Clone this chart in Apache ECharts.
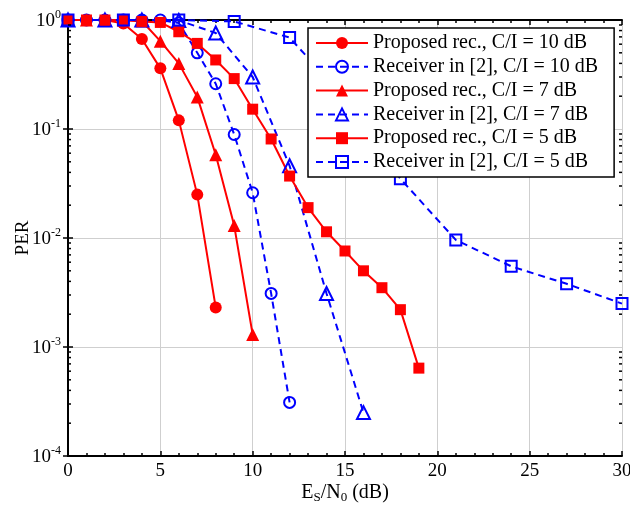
<!DOCTYPE html>
<html>
<head>
<meta charset="utf-8">
<script src="https://cdn.jsdelivr.net/npm/echarts@6/dist/echarts.min.js"></script>
<style>
html, body { margin: 0; padding: 0; background: #fff; }
#main { width: 630px; height: 506px; }
</style>
</head>
<body>
<div id="main"></div>
<script>
// Es/N0 points (dB)
var snrStep1 = [0, 1, 2, 3, 4, 5, 6, 7, 8, 9, 10, 11, 12, 13, 14, 15, 16, 17, 18, 19];
var snrStep2 = [0, 2, 4, 6, 8, 10, 12, 14, 16];
var snrStep3 = [0, 3, 6, 9, 12, 15, 18, 21, 24, 27, 30];

// PER values
var propCI10 = [1, 1, 1, 0.93, 0.67, 0.36, 0.12, 0.025, 0.0023];
var refCI10 = [1, 1, 1, 1, 1, 1, 0.94, 0.50, 0.26, 0.089, 0.026, 0.0031, 0.00031];
var propCI7 = [1, 1, 1, 1, 0.98, 0.64, 0.40, 0.197, 0.058, 0.013, 0.0013];
var refCI7 = [1, 1, 1, 0.99, 0.76, 0.30, 0.046, 0.0031, 0.00025];
var propCI5 = [1, 1, 1, 1, 0.97, 0.95, 0.78, 0.61, 0.43, 0.29, 0.152, 0.081, 0.037, 0.019, 0.0114, 0.0076, 0.0050, 0.0035, 0.0022, 0.00064];
var refCI5 = [1, 1, 1, 0.97, 0.69, 0.19, 0.035, 0.0096, 0.0055, 0.0038, 0.0025];

var xTicks = [0, 5, 10, 15, 20, 25, 30];
var yDecades = [-4, -3, -2, -1, 0];

var font = 'Liberation Serif';
var red = '#ff0000';
var blue = '#0000ff';

function pairs(xs, ys) {
    var out = [];
    for (var i = 0; i < ys.length; i++) {
        out.push([xs[i], ys[i]]);
    }
    return out;
}

function solid(name, xs, ys, symbol, size) {
    return {
        name: name,
        type: 'line',
        data: pairs(xs, ys),
        clip: false,
        symbol: symbol,
        symbolSize: size,
        lineStyle: { color: red, width: 2 },
        itemStyle: { color: red },
        emphasis: { disabled: true }
    };
}

function dashed(name, xs, ys, symbol, size) {
    return {
        name: name,
        type: 'line',
        data: pairs(xs, ys),
        clip: false,
        symbol: symbol,
        symbolSize: size,
        lineStyle: { color: blue, width: 2, type: [7, 5] },
        itemStyle: { color: 'rgba(255,255,255,0)', borderColor: blue, borderWidth: 2 },
        emphasis: { disabled: true }
    };
}

var myChart = echarts.init(document.getElementById('main'));

var option = {
    animation: false,
    backgroundColor: '#fff',
    textStyle: { fontFamily: font },
    grid: { left: 68, right: 8, top: 20, bottom: 50, outerBoundsMode: 'none' },
    legend: {
        left: 308,
        top: 28,
        orient: 'vertical',
        backgroundColor: '#fff',
        borderColor: '#000',
        borderWidth: 1.5,
        borderRadius: 0,
        padding: [5, 16, 5, 7],
        itemWidth: 52,
        itemHeight: 15,
        itemGap: 3.8,
        textStyle: { fontFamily: font, fontSize: 20, color: '#000', lineHeight: 20 },
        data: [
            'Proposed rec., C/I = 10 dB', 'Receiver in [2], C/I = 10 dB',
            'Proposed rec., C/I = 7 dB', 'Receiver in [2], C/I = 7 dB',
            'Proposed rec., C/I = 5 dB', 'Receiver in [2], C/I = 5 dB'
        ]
    },
    xAxis: [
        {
            type: 'value',
            min: xTicks[0],
            max: xTicks[xTicks.length - 1],
            interval: 5,
            name: 'E{sub|S}/N{sub|0} (dB)',
            nameLocation: 'middle',
            nameGap: 26,
            nameMoveOverlap: false,
            nameTextStyle: {
                fontFamily: font, fontSize: 20, color: '#000', lineHeight: 22,
                rich: { sub: { fontFamily: font, fontSize: 13, lineHeight: 14, verticalAlign: 'bottom', color: '#000' } }
            },
            axisLine: { lineStyle: { color: '#000', width: 2 } },
            axisTick: { inside: true, length: 5, lineStyle: { color: '#000', width: 1.5 } },
            minorTick: { show: true, splitNumber: 5, length: 3, lineStyle: { color: '#000', width: 1.5 } },
            axisLabel: { fontFamily: font, fontSize: 19, color: '#000', margin: 6 },
            splitLine: { show: true, lineStyle: { color: '#cfcfcf', width: 1 } }
        },
        {
            type: 'value',
            position: 'top',
            min: xTicks[0],
            max: xTicks[xTicks.length - 1],
            interval: 5,
            axisLine: { onZero: false, lineStyle: { color: '#000', width: 2 } },
            axisTick: { inside: true, length: 5, lineStyle: { color: '#000', width: 1.5 } },
            minorTick: { show: true, splitNumber: 5, length: 3, lineStyle: { color: '#000', width: 1.5 } },
            axisLabel: { show: false },
            splitLine: { show: false }
        }
    ],
    yAxis: [
        {
            type: 'log',
            logBase: 10,
            min: Math.pow(10, yDecades[0]),
            max: Math.pow(10, yDecades[yDecades.length - 1]),
            splitNumber: 4,
            name: 'PER',
            nameLocation: 'middle',
            nameGap: 35,
            nameMoveOverlap: false,
            nameTextStyle: { fontFamily: font, fontSize: 19, color: '#000' },
            axisLine: { lineStyle: { color: '#000', width: 2 } },
            axisTick: { inside: true, length: 5, lineStyle: { color: '#000', width: 1.5 } },
            axisLabel: {
                margin: 7,
                formatter: function (v) {
                    var e = Math.round(Math.log(v) / Math.LN10);
                    return '{b|10}{s|' + e + '}';
                },
                rich: {
                    b: { fontFamily: font, fontSize: 19, lineHeight: 22, color: '#000', verticalAlign: 'bottom' },
                    s: { fontFamily: font, fontSize: 12, lineHeight: 12, color: '#000', verticalAlign: 'top' }
                }
            },
            splitLine: { show: true, lineStyle: { color: '#cfcfcf', width: 1 } }
        },
        {
            type: 'log',
            logBase: 10,
            position: 'right',
            min: Math.pow(10, yDecades[0]),
            max: Math.pow(10, yDecades[yDecades.length - 1]),
            splitNumber: 4,
            axisLine: { show: true, lineStyle: { color: '#000', width: 2 } },
            axisTick: { show: true, inside: true, length: 5, lineStyle: { color: '#000', width: 1.5 } },
            axisLabel: { show: false },
            splitLine: { show: false }
        }
    ],
    series: [
        solid('Proposed rec., C/I = 10 dB', snrStep1, propCI10, 'circle', 12),
        dashed('Receiver in [2], C/I = 10 dB', snrStep1, refCI10, 'circle', 11),
        solid('Proposed rec., C/I = 7 dB', snrStep1, propCI7, 'triangle', 13),
        dashed('Receiver in [2], C/I = 7 dB', snrStep2, refCI7, 'triangle', 13),
        solid('Proposed rec., C/I = 5 dB', snrStep1, propCI5, 'rect', 11),
        dashed('Receiver in [2], C/I = 5 dB', snrStep3, refCI5, 'rect', 11)
    ]
};

myChart.setOption(option);

// log minor ticks (2..9 each decade), left and right side
var xl = myChart.convertToPixel({ xAxisIndex: 0 }, xTicks[0]);
var xr = myChart.convertToPixel({ xAxisIndex: 0 }, xTicks[xTicks.length - 1]);
var ticks = [];
for (var d = 0; d < yDecades.length - 1; d++) {
    for (var k = 2; k <= 9; k++) {
        var py = myChart.convertToPixel({ yAxisIndex: 0 }, k * Math.pow(10, yDecades[d]));
        ticks.push({ type: 'line', shape: { x1: xl, y1: py, x2: xl + 3, y2: py }, style: { stroke: '#000', lineWidth: 1.5 }, z: 5 });
        ticks.push({ type: 'line', shape: { x1: xr - 3, y1: py, x2: xr, y2: py }, style: { stroke: '#000', lineWidth: 1.5 }, z: 5 });
    }
}
myChart.setOption({ graphic: ticks });
</script>
</body>
</html>
